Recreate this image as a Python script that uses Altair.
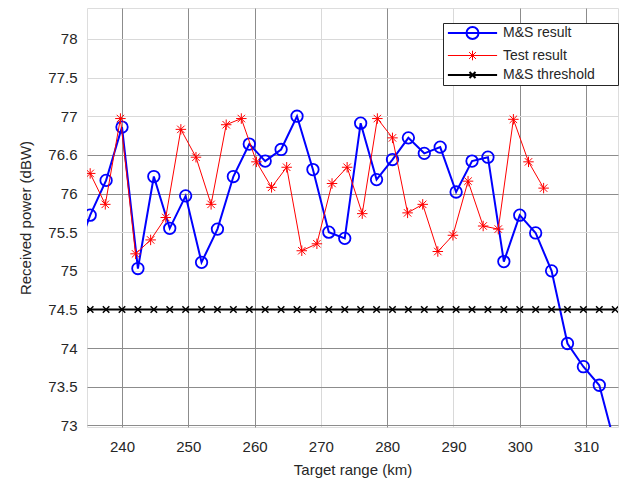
import altair as alt
import pandas as pd

# ---- data ----
ms_range = [232.8, 235.2, 237.6, 240.0, 242.4, 244.8, 247.2, 249.6, 252.0, 254.4,
            256.8, 259.2, 261.6, 264.0, 266.4, 268.8, 271.2, 273.6, 276.0, 278.4,
            280.8, 283.2, 285.6, 288.0, 290.4, 292.8, 295.2, 297.6, 300.0, 302.4,
            304.8, 307.2, 309.6, 312.0, 314.4]
ms_power = [75.15, 75.72, 76.17, 76.86, 75.03, 76.22, 75.55, 75.97, 75.11, 75.54,
            76.22, 76.64, 76.42, 76.57, 77.00, 76.31, 75.50, 75.42, 76.91, 76.18,
            76.44, 76.72, 76.52, 76.60, 76.02, 76.42, 76.47, 75.12, 75.72, 75.49,
            75.00, 74.06, 73.76, 73.52, 72.74]

test_range = [235.2, 237.48, 239.76, 242.04, 244.32, 246.6, 248.88, 251.16, 253.44, 255.72,
              258.0, 260.28, 262.56, 264.84, 267.12, 269.4, 271.68, 273.96, 276.24, 278.52,
              280.8, 283.08, 285.36, 287.64, 289.92, 292.2, 294.48, 296.76, 299.04, 301.32,
              303.6]
test_power = [76.26, 75.86, 76.97, 75.22, 75.40, 75.69, 76.83, 76.47, 75.86, 76.89,
              76.97, 76.41, 76.08, 76.34, 75.26, 75.35, 76.13, 76.34, 75.74, 76.97,
              76.72, 75.75, 75.86, 75.25, 75.46, 76.16, 75.58, 75.54, 76.96, 76.41,
              76.07]

threshold_range = ms_range
threshold_level = 74.5

series_names = ["M&S result", "Test result", "M&S threshold"]
series_colors = ["#0000ff", "#ff0000", "#000000"]

x_ticks = [240, 250, 260, 270, 280, 290, 300, 310]
y_ticks = [73, 73.5, 74, 74.5, 75, 75.5, 76, 76.5, 77, 77.5, 78]

rows = []
for r, p in zip(ms_range, ms_power):
    rows.append({"range": r, "power": p, "series": series_names[0]})
for r, p in zip(test_range, test_power):
    rows.append({"range": r, "power": p, "series": series_names[1]})
for r in threshold_range:
    rows.append({"range": r, "power": threshold_level, "series": series_names[2]})
df = pd.DataFrame(rows)

FONT = "Liberation Sans"
TXT = "#262626"
LIGHT = "#d9d9d9"
DARK = "#8c8c8c"

x_axis = alt.Axis(
    values=x_ticks, ticks=False, domain=False, labelPadding=12,
    labelFont=FONT, labelFontSize=15, labelColor=TXT,
    titleFont=FONT, titleFontSize=15, titleColor=TXT, titleFontWeight="normal",
    titlePadding=8,
    gridColor={"condition": {"test": "indexof([240,250,260,280,300,310], datum.value) >= 0",
                             "value": DARK}, "value": LIGHT},
)
y_axis = alt.Axis(
    values=y_ticks, ticks=False, domain=False, labelPadding=10,
    labelExpr="datum.value == 76.5 ? '76.6' : format(datum.value, '~g')",
    labelFont=FONT, labelFontSize=15, labelColor=TXT,
    titleFont=FONT, titleFontSize=15, titleColor=TXT, titleFontWeight="normal",
    titlePadding=14,
    gridColor={"condition": {"test": "indexof([76.5,76,74,73.5,73], datum.value) >= 0",
                             "value": DARK}, "value": LIGHT},
)

x_enc = alt.X("range:Q", title="Target range (km)",
              scale=alt.Scale(domain=[234.72, 314.82], nice=False, zero=False), axis=x_axis)
y_enc = alt.Y("power:Q", title="Received power (dBW)",
              scale=alt.Scale(domain=[72.98, 78.4], nice=False, zero=False), axis=y_axis)

base = alt.Chart(df).encode(x=x_enc, y=y_enc)

ASTER = "M-1,0L1,0M0,-1L0,1M-0.71,-0.71L0.71,0.71M-0.71,0.71L0.71,-0.71"
XMARK = "M-1,-1L1,1M-1,1L1,-1"

line_w = [2, 1, 2]
shapes = ["circle", ASTER, XMARK]
sizes = [132, 110, 42]
mark_w = [1.8, 1, 1.5]

layers = []
for name, col, lw, shp, sz, mw in zip(series_names, series_colors, line_w, shapes, sizes, mark_w):
    sub = base.transform_filter(alt.datum.series == name)
    layers.append(sub.mark_line(color=col, strokeWidth=lw, clip=True))
    layers.append(sub.mark_point(shape=shp, size=sz, color=col, strokeWidth=mw,
                                 filled=False, opacity=1, clip=True))

# legend-only layer (no marks drawn)
LEG_CIRC = "M-4.1,0L4.1,0M1,0A1,1,0,1,1,-1,0A1,1,0,1,1,1,0"
LEG_ASTER = ("M-4.1,0L4.1,0M0,-0.8L0,0.8M-0.57,-0.57L0.57,0.57"
             "M-0.57,0.57L0.57,-0.57")
LEG_X = "M-4.1,0L4.1,0M-0.5,-0.5L0.5,0.5M-0.5,0.5L0.5,-0.5"

legend_layer = alt.Chart(df).transform_filter("false").mark_point(
    filled=False, opacity=1
).encode(
    x=x_enc, y=y_enc,
    color=alt.Color("series:N", title=None,
                    scale=alt.Scale(domain=series_names, range=series_colors),
                    legend=alt.Legend(
                        orient="none", legendX=356, legendY=15,
                        padding=3, rowPadding=5.5,
                        strokeColor="#262626", fillColor="white",
                        symbolSize=144, symbolOffset=19.5, labelOffset=23.5,
                        labelFont=FONT, labelFontSize=14, labelColor=TXT,
                        labelExpr="datum.label + '\u2800\u2800'",
                        labelLimit=300,
                    )),
    shape=alt.Shape("series:N", title=None,
                    scale=alt.Scale(domain=series_names, range=[LEG_CIRC, LEG_ASTER, LEG_X])),
    strokeWidth=alt.StrokeWidth("series:N", title=None,
                                scale=alt.Scale(type="ordinal", domain=series_names,
                                                range=[2, 1, 2])),
)
layers.append(legend_layer)

chart = alt.layer(*layers).properties(
    width=531, height=419,
    autosize=alt.AutoSizeParams(type="none"),
    padding={"left": 87, "top": 8, "right": 8, "bottom": 53},
).configure_view(stroke="#404040", strokeWidth=1).configure(background="white")

chart.save("out.html", embed_options={"renderer": "svg", "actions": False})
